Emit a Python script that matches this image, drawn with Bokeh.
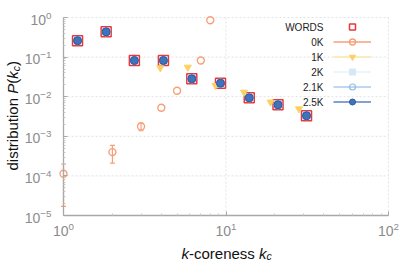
import math
from bokeh.plotting import figure
from bokeh.models import (ColumnDataSource, Whisker, TeeHead, FixedTicker, Legend,
                          LegendItem, Label, LogTickFormatter, Range1d)
from bokeh.embed import file_html
from bokeh.resources import INLINE

# ---- data ----
kc_words = [1.22, 1.83, 2.73, 4.12, 6.16, 9.25, 13.9, 20.9, 31.3]
p_words = [0.26, 0.435, 0.082, 0.082, 0.0283, 0.0219, 0.00937, 0.00624, 0.00331]

kc_0k = [1, 2, 3, 4, 5, 7, 8]
p_0k = [1.13e-4, 3.98e-4, 1.77e-3, 5.25e-3, 0.0141, 0.082, 0.855]
err_kc_0k = [1, 2, 3]
err_lo_0k = [1.7e-5, 2.1e-4, 1.38e-3]
err_hi_0k = [2.0e-4, 5.9e-4, 2.14e-3]

kc_1k = [3.94, 5.82, 8.62, 12.9, 18.8, 28.1]
p_1k = [0.0537, 0.0556, 0.0192, 0.013, 0.0073, 0.00494]

kc_2k = kc_words
p_2k = p_words
kc_21k = kc_words
p_21k = p_words
kc_25k = kc_words
p_25k = p_words

series_names = ["WORDS", "0K", "1K", "2K", "2.1K", "2.5K"]
x_ticks = [1, 10, 100]
y_ticks = [1e-5, 1e-4, 1e-3, 1e-2, 1e-1, 1]

# ---- layout (pixels) ----
W, H = 415, 277
FL, FR, FT, FB = 63, 388, 17, 215          # data-area edges on the canvas
dx = (FR - FL) / (math.log10(x_ticks[-1]) - math.log10(x_ticks[0]))
dy = (FB - FT) / (math.log10(y_ticks[-1]) - math.log10(y_ticks[0]))
x_lo = 10 ** (math.log10(x_ticks[0]) - FL / dx)
x_hi = 10 ** (math.log10(x_ticks[-1]) + (W - FR) / dx)
y_hi = 10 ** (math.log10(y_ticks[-1]) + FT / dy)
y_lo = 10 ** (math.log10(y_ticks[0]) - (H - FB) / dy)

FONT = "Liberation Sans"
GRAY = "#a8a8a8"

p = figure(width=W, height=H, x_axis_type="log", y_axis_type="log",
           x_range=Range1d(x_lo, x_hi), y_range=Range1d(y_lo, y_hi),
           output_backend="svg", toolbar_location=None, title=None,
           min_border_left=0, min_border_right=0, min_border_top=0, min_border_bottom=0)
p.outline_line_color = None
p.background_fill_color = "white"
p.xgrid.visible = False
p.ygrid.visible = False

x_minor = [m * 10 ** d for d in range(0, 2) for m in range(2, 10)]
y_minor = [m * 10 ** d for d in range(-5, 0) for m in range(2, 10)]
p.xaxis.ticker = FixedTicker(ticks=x_ticks, minor_ticks=x_minor)
p.yaxis.ticker = FixedTicker(ticks=y_ticks, minor_ticks=y_minor)
p.xaxis.fixed_location = y_ticks[0]
p.yaxis.fixed_location = x_ticks[0]
p.xaxis.bounds = (x_ticks[0], x_ticks[-1])
p.yaxis.bounds = (y_ticks[0], y_ticks[-1])
for ax in (p.xaxis, p.yaxis):
    ax.formatter = LogTickFormatter()
    ax.axis_line_color = GRAY
    ax.axis_line_width = 1.3
    ax.major_tick_line_color = GRAY
    ax.minor_tick_line_color = "#c8c8c8"
    ax.major_tick_in = 4
    ax.major_tick_out = 0
    ax.minor_tick_in = 2
    ax.minor_tick_out = 0
    ax.major_label_text_color = "#8c8c8c"
    ax.major_label_text_font = FONT
    ax.major_label_text_font_size = "14px"
p.xaxis.major_label_standoff = 6
p.yaxis.major_label_standoff = 12

# dashed grid limited to the data area (drawn from the tick lists)
GRID = "#e2e2e2"
p.segment(x0=x_ticks[1:], y0=[y_ticks[0]] * (len(x_ticks) - 1),
          x1=x_ticks[1:], y1=[y_ticks[-1]] * (len(x_ticks) - 1),
          line_color=GRID, line_dash="2 2", line_width=1)
p.segment(x0=[x_ticks[0]] * (len(y_ticks) - 1), y0=y_ticks[1:],
          x1=[x_ticks[-1]] * (len(y_ticks) - 1), y1=y_ticks[1:],
          line_color=GRID, line_dash="2 2", line_width=1)

# ---- series ----
C_WORDS = "#e8383d"
C_0K = "#f6a07a"
C_1K = "#fcd062"
C_2K = "#d4e8f6"
C_21K = "#8fbde3"
C_25K = "#4172ba"

r_words = p.scatter(kc_words, p_words, marker="square", size=10, fill_color=None,
                    line_color=C_WORDS, line_width=1.5)

src0 = ColumnDataSource(dict(x=err_kc_0k, lo=err_lo_0k, hi=err_hi_0k))
p.add_layout(Whisker(source=src0, base="x", lower="lo", upper="hi", dimension="height",
                     line_color=C_0K, line_width=1.2,
                     lower_head=TeeHead(size=5, line_color=C_0K, line_width=1.2),
                     upper_head=TeeHead(size=5, line_color=C_0K, line_width=1.2)))
r_0k = p.scatter(kc_0k, p_0k, marker="circle", size=7, fill_color=None,
                 line_color=C_0K, line_width=1.4)
r_1k = p.scatter(kc_1k, p_1k, marker="inverted_triangle", size=7, fill_color=C_1K,
                 line_color=C_1K, line_width=1)
r_2k = p.scatter(kc_2k, p_2k, marker="square", size=7, fill_color=C_2K,
                 line_color=C_2K, line_width=1)
r_21k = p.scatter(kc_21k, p_21k, marker="circle", size=8, fill_color=None,
                  line_color=C_21K, line_width=1.2)
r_25k = p.scatter(kc_25k, p_25k, marker="circle", size=8, fill_color=C_25K,
                  line_color="#2c5a9e", line_width=1)

# hidden line renderers, used only for the legend line glyphs
l_0k = p.line(kc_0k, p_0k, line_color=C_0K, line_width=1.3, visible=False)
l_1k = p.line(kc_1k, p_1k, line_color="#fde7a6", line_width=1.3, visible=False)
l_2k = p.line(kc_2k, p_2k, line_color="#e6f2fb", line_width=1.3, visible=False)
l_21k = p.line(kc_21k, p_21k, line_color="#a9cdea", line_width=1.3, visible=False)
l_25k = p.line(kc_25k, p_25k, line_color="#5b82bf", line_width=1.3, visible=False)

items = [
    LegendItem(label=" ", renderers=[r_words]),
    LegendItem(label=" ", renderers=[l_0k, r_0k]),
    LegendItem(label=" ", renderers=[l_1k, r_1k]),
    LegendItem(label=" ", renderers=[l_2k, r_2k]),
    LegendItem(label=" ", renderers=[l_21k, r_21k]),
    LegendItem(label=" ", renderers=[l_25k, r_25k]),
]
legend = Legend(items=items, location=(333, H - 109), glyph_width=38, glyph_height=15,
                label_height=15, label_width=1, label_standoff=0, spacing=0, padding=0,
                margin=0, background_fill_alpha=0, border_line_alpha=0,
                label_text_font_size="8px", click_policy="none")
p.add_layout(legend)

for i, name in enumerate(series_names):
    p.add_layout(Label(x=323, y=H - 26.5 - 15 * i, x_units="screen", y_units="screen",
                       text=name, text_align="right", text_baseline="middle",
                       text_font=FONT, text_font_size="10px", text_color="#222222"))

# ---- axis titles (rich text made of pieces) ----
def lab(x, y, text, size="15px", style="normal", angle=0.0):
    p.add_layout(Label(x=x, y=y, x_units="screen", y_units="screen", text=text,
                       text_align="left", text_baseline="alphabetic", angle=angle,
                       text_font=FONT, text_font_size=size, text_font_style=style,
                       text_color="#111111"))

bx = H - 252.7
lab(181, bx, "k", style="italic")
lab(188.5, bx, "-coreness")
lab(258.5, bx, "k", style="italic")
lab(266, bx - 3, "c", size="10.5px", style="italic")

rot = math.pi / 2
by = 12
lab(by, 107, "distribution", angle=rot)
lab(by, 183.7, "P", style="italic", angle=rot)
lab(by, 193.7, "(", angle=rot)
lab(by, 198.7, "k", style="italic", angle=rot)
lab(by + 3, 206.2, "c", size="10.5px", style="italic", angle=rot)
lab(by, 211.5, ")", angle=rot)

open("out.html", "w").write(file_html(p, INLINE))
